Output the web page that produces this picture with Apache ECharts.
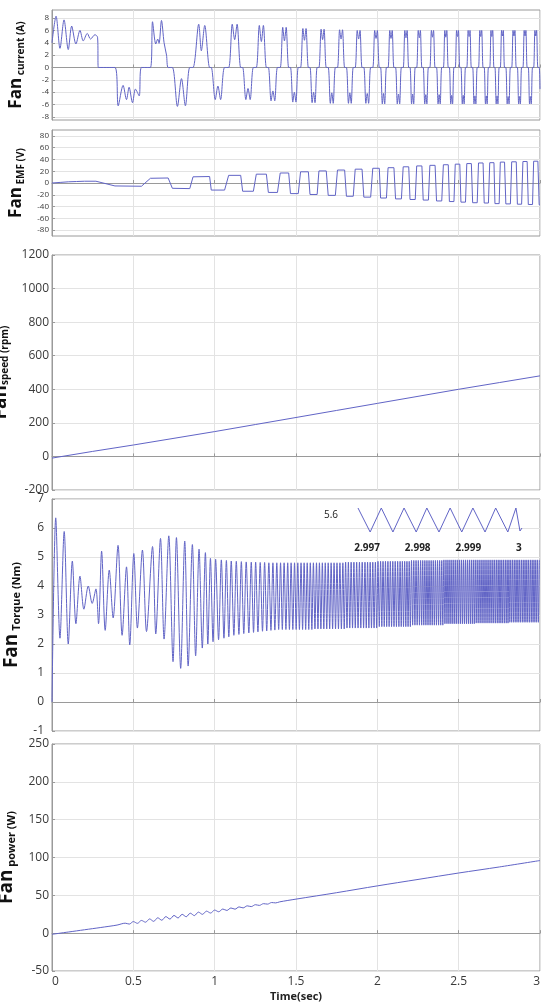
<!DOCTYPE html>
<html><head><meta charset="utf-8">
<script src="https://cdn.jsdelivr.net/npm/echarts@6/dist/echarts.min.js"></script>
<style>html,body{margin:0;padding:0;background:#fff}#c{width:541px;height:1008px}</style>
</head><body><div id="c"></div>
<script>
// ---------------- data ----------------
const timeTicks = [0, 0.5, 1, 1.5, 2, 2.5, 3];
const currentTicks = [-8, -6, -4, -2, 0, 2, 4, 6, 8];
const emfTicks = [-80, -60, -40, -20, 0, 20, 40, 60, 80];
const insetTimeTicks = [2.997, 2.998, 2.999, 3];
const insetTorqueTicks = [5.6];

// current: start-up section (time s, current A)
const curEarlyT = [0, 0.025, 0.049, 0.074, 0.100, 0.121, 0.147, 0.172, 0.192, 0.217, 0.237, 0.264, 0.280, 0.285, 0.387, 0.407, 0.437, 0.458, 0.474, 0.495, 0.513, 0.536, 0.550, 0.605, 0.618, 0.638, 0.650, 0.658, 0.673, 0.689, 0.704, 0.714, 0.740, 0.771, 0.796, 0.820, 0.847, 0.867, 0.902, 0.918, 0.939, 0.969];
const curEarlyV = [4.0, 8.3, 3.1, 7.7, 2.9, 6.7, 3.8, 6.0, 4.3, 5.5, 4.6, 5.3, 4.9, 0, 0, -6.2, -2.9, -5.2, -3.2, -5.7, -3.5, -4.6, 0, 0, 7.4, 3.8, 4.6, 3.9, 7.6, 4.0, 2.0, 0, 0, -6.3, -1.8, -6.2, 0, 0, 7.0, 2.7, 6.8, 0];
// current: later conduction humps (start, end, signed peak, signed notch)
const humpStart = [0.979,1.086,1.172,1.256,1.330,1.403,1.466,1.528,1.586,1.641,1.698,1.755,1.810,1.864,1.917,1.972,2.020,2.066,2.112,2.159,2.201,2.242,2.282,2.323,2.364,2.406,2.443,2.479,2.514,2.550,2.586,2.622,2.657,2.691,2.723,2.756,2.790,2.826,2.861,2.895,2.928,2.961];
const humpEnd = [1.061,1.160,1.238,1.318,1.386,1.455,1.514,1.576,1.630,1.686,1.742,1.799,1.852,1.906,1.959,2.012,2.056,2.102,2.148,2.193,2.233,2.274,2.314,2.355,2.396,2.436,2.471,2.507,2.542,2.578,2.614,2.650,2.683,2.717,2.749,2.782,2.818,2.854,2.887,2.921,2.954,2.987];
const humpPeak = [-5.2,7.0,-5.2,6.8,-5.4,6.5,-5.6,6.3,-5.7,6.2,-5.8,6.1,-5.8,6.0,-5.8,6.0,-5.9,6.0,-5.9,6.0,-5.9,6.0,-5.9,6.0,-5.9,6.0,-5.9,6.0,-5.9,6.0,-5.9,6.0,-5.9,6.0,-5.9,6.0,-5.9,6.0,-5.9,6.0,-5.9,6.0];
const humpNotch = [-3.0,4.5,-3.4,4.2,-3.8,4.3,-4.0,4.4,-4.0,4.5,-4.1,4.6,-4.1,4.6,-4.2,4.7,-4.2,4.7,-4.3,4.8,-4.3,4.8,-4.4,4.9,-4.4,4.9,-4.5,5.0,-4.5,5.0,-4.6,5.0,-4.6,5.0,-4.6,5.1,-4.7,5.1,-4.7,5.1,-4.7,5.1];
const curTailT = [2.995, 3.0];
const curTailV = [0, -3.5];

// EMF (V)
const emfEarlyT = [0, 0.05, 0.10, 0.15, 0.20, 0.27, 0.387, 0.550, 0.605, 0.714, 0.740, 0.847, 0.867, 0.969];
const emfEarlyV = [0, 1, 2, 2.5, 3, 3, -5, -5.5, 8, 8.5, -9, -9.5, 10.5, 11];
const emfLevel = [-12,13,-14,15,-16,17,-18,19,-19.5,20.5,-21,22,-22.5,23.5,-24,25,-25.5,26,-27,27.5,-28,29,-29,30,-30.5,31,-31.5,32,-32.5,33,-33.5,34,-34,34.5,-35,35.5,-35.5,36,-36,36.5,-36.5,37];
const emfTailT = [2.995, 3.0];
const emfTailV = [-37, -37];

// speed (rpm)
const speedT = [0, 0.25, 0.5, 0.75, 1.0, 1.25, 1.5, 1.75, 2.0, 2.25, 2.5, 2.75, 3.0];
const speedV = [-10, 30, 68, 108, 148, 190, 232, 274, 316, 358, 400, 440, 480];

// torque (Nm): individual peaks/troughs of the start-up
const tqT = [0.000,0.023,0.049,0.075,0.100,0.125,0.147,0.172,0.196,0.223,0.247,0.270,0.286,0.305,0.327,0.352,0.376,0.406,0.431,0.458,0.478,0.503,0.525,0.556,0.581,0.618,0.638,0.667,0.689,0.718,0.744,0.765,0.791,0.816,0.837,0.863,0.883,0.904,0.924,0.943,0.958,0.974,0.990,1.006,1.024,1.041,1.057,1.072,1.087,1.102,1.118,1.133,1.149,1.164,1.179,1.194,1.210,1.225,1.239,1.252,1.266,1.280,1.294,1.307,1.320,1.333,1.346,1.358,1.370];
const tqV = [0.0,6.35,2.2,5.88,2.0,4.86,2.7,4.34,3.2,4.0,3.4,3.9,2.7,5.2,2.47,4.55,2.9,5.4,2.3,4.66,1.97,5.12,2.55,5.24,2.43,5.36,2.35,5.64,2.17,5.73,1.39,5.67,1.16,5.55,1.24,5.43,1.59,5.27,1.86,5.15,2.0,4.95,2.08,4.92,2.15,4.9,2.2,4.88,2.25,4.86,2.3,4.85,2.33,4.84,2.36,4.83,2.38,4.82,2.4,4.82,2.42,4.81,2.44,4.81,2.45,4.8,2.47,4.8,2.48];
// torque: ripple peak times in the dense band, and band top/bottom per time segment
const tqDenseT = [1.382,1.405,1.427,1.449,1.470,1.491,1.511,1.531,1.550,1.569,1.588,1.607,1.626,1.644,1.662,1.680,1.698,1.716,1.734,1.752,1.770,1.788,1.805,1.822,1.839,1.856,1.873,1.890,1.907,1.924,1.940,1.956,1.972,1.988,2.004,2.020,2.035,2.050,2.065,2.080,2.095,2.110,2.125,2.140,2.154,2.168,2.182,2.196,2.210,2.224,2.238,2.252,2.266,2.279,2.292,2.305,2.318,2.331,2.344,2.357,2.370,2.383,2.396,2.409,2.422,2.434,2.446,2.458,2.470,2.482,2.494,2.506,2.518,2.530,2.542,2.554,2.566,2.578,2.590,2.602,2.614,2.626,2.638,2.650,2.662,2.674,2.686,2.698,2.710,2.721,2.732,2.743,2.754,2.765,2.776,2.787,2.798,2.809,2.820,2.831,2.842,2.853,2.864,2.875,2.886,2.897,2.908,2.919,2.930,2.941,2.952,2.963,2.974,2.985,2.996];
const tqSegEnd = [1.5, 1.6, 1.8, 2.0, 2.2, 2.4, 2.6, 2.8, 3.01];
const tqSegHi = [4.8, 4.8, 4.8, 4.82, 4.85, 4.88, 4.9, 4.9, 4.9];
const tqSegLo = [2.5, 2.5, 2.52, 2.55, 2.6, 2.65, 2.7, 2.72, 2.75];

// inset: torque between 2.997 s and 3 s
const insetT = [2.99682,2.99706,2.99728,2.99751,2.99773,2.99797,2.99818,2.99842,2.99864,2.99887,2.99909,2.99933,2.99954,2.99978,2.99994,3.00002,3.00006];
const insetV = [5.635,5.515,5.635,5.515,5.635,5.515,5.635,5.515,5.635,5.515,5.635,5.515,5.635,5.515,5.635,5.52,5.535];

// power (W)
const powT = [0,0.1,0.2,0.3,0.4,0.45,0.475,0.5,0.525,0.55,0.575,0.6,0.625,0.65,0.675,0.7,0.725,0.75,0.775,0.8,0.825,0.85,0.875,0.9,0.925,0.95,0.975,1.0,1.025,1.05,1.075,1.1,1.125,1.15,1.175,1.2,1.225,1.25,1.275,1.3,1.325,1.35,1.375,1.4,1.5,1.75,2.0,2.25,2.5,2.75,3.0];
const powV = [-1.5,1.5,4.5,7.5,10.7,13.2,12.0,15.3,13.0,16.8,14.5,18.8,15.6,20.3,17.1,21.9,18.6,23.4,20.1,24.9,21.7,26.4,23.2,27.8,24.9,29.1,26.6,30.5,28.3,31.9,30.0,33.3,31.7,34.7,33.4,36.1,35.1,37.6,36.7,39.0,38.4,40.5,40.0,41.4,45.0,53.5,62.5,71.0,79.5,87.5,96.0];

// ---------------- build series data ----------------
const pair = (T, V) => T.map((t, i) => [t, V[i]]);

const curData = pair(curEarlyT, curEarlyV);
const emfData = pair(emfEarlyT, emfEarlyV);
humpStart.forEach((s, i) => {
  const e = humpEnd[i], w = e - s;
  curData.push([s, 0], [s + 0.3 * w, humpPeak[i]], [s + 0.5 * w, humpNotch[i]], [s + 0.7 * w, humpPeak[i]], [e, 0]);
  emfData.push([s, emfLevel[i]], [e, emfLevel[i]]);
});
curData.push(...pair(curTailT, curTailV));
emfData.push(...pair(emfTailT, emfTailV));

const tqData = pair(tqT, tqV);
tqDenseT.forEach((t, i) => {
  let k = 0; while (t > tqSegEnd[k]) k++;
  tqData.push([t, tqSegHi[k]]);
  if (i + 1 < tqDenseT.length) tqData.push([(t + tqDenseT[i + 1]) / 2, tqSegLo[k]]);
});

// ---------------- styling ----------------
const LINE = '#6164c6';
const FRAME = '#9a9a9a';
const GRIDC = '#e3e3e3';
const FONT = '"Open Sans", "DejaVu Sans", sans-serif';
const TXT = '#3a3a3a';

function xAx(i, withLabels) {
  return {
    type: 'value', gridIndex: i, min: 0, max: 3, interval: 0.5,
    axisLine: { show: true, lineStyle: { color: FRAME } },
    axisTick: { show: true, inside: true, length: 3, lineStyle: { color: FRAME } },
    splitLine: { show: true, lineStyle: { color: GRIDC } },
    axisLabel: { show: withLabels, fontFamily: FONT, fontSize: 12, color: TXT, margin: 5,
      alignMinLabel: 'left', alignMaxLabel: 'right',
      formatter: v => String(timeTicks.find(t => Math.abs(t - v) < 1e-9) ?? v) },
    name: withLabels ? 'Time(sec)' : '', nameLocation: 'middle', nameGap: 20,
    nameTextStyle: { fontFamily: FONT, fontSize: 11, fontWeight: 'bold', color: '#222' }
  };
}
function rich(big, small) {
  return {
    a: { fontFamily: FONT, fontSize: big, fontWeight: 'bold', color: '#111', lineHeight: big + 2 },
    b: { fontFamily: FONT, fontSize: small, fontWeight: 'bold', color: '#111', lineHeight: small + 1, verticalAlign: 'bottom' }
  };
}
function yAx(i, o) {
  const base = {
    type: 'value', gridIndex: i, min: o.min, max: o.max,
    axisLine: { show: true, lineStyle: { color: FRAME } },
    axisTick: { show: true, inside: true, length: 3, lineStyle: { color: FRAME } },
    splitLine: { show: true, lineStyle: { color: GRIDC } },
    axisLabel: { fontFamily: FONT, fontSize: o.fs, color: TXT, margin: o.margin, formatter: v => String(v) },
    name: o.name, nameLocation: 'middle', nameRotate: 90, nameGap: o.gap,
    nameTextStyle: { rich: rich(o.big, o.small) }
  };
  if (o.ticks) {
    base.axisLabel.customValues = o.ticks;
    base.axisTick.customValues = o.ticks;
  } else {
    base.interval = o.interval;
  }
  return base;
}
function grid(top, height) {
  return { left: 52, right: 1, top: top, height: height, show: true, borderColor: FRAME, borderWidth: 1,
    backgroundColor: 'transparent', containLabel: false, outerBoundsMode: 'none' };
}

const chart = echarts.init(document.getElementById('c'), null, { renderer: 'canvas' });
chart.setOption({
  animation: false,
  backgroundColor: '#fff',
  grid: [
    grid(10, 110), grid(130, 106), grid(255, 235), grid(499, 232), grid(744, 227),
    { left: 358, top: 505, width: 164, height: 30, show: false, containLabel: false, outerBoundsMode: 'none' }
  ],
  xAxis: [
    xAx(0, false), xAx(1, false), xAx(2, false), xAx(3, false), xAx(4, true),
    { type: 'value', gridIndex: 5, min: 2.99682, max: 3.00006,
      axisLine: { show: false }, axisTick: { show: false }, splitLine: { show: false },
      axisLabel: { customValues: insetTimeTicks, fontFamily: FONT, fontSize: 10, fontWeight: 'bold', color: '#222', margin: 8,
        formatter: v => String(insetTimeTicks.find(t => Math.abs(t - v) < 1e-7) ?? v) } }
  ],
  yAxis: [
    yAx(0, { min: -8.5, max: 9.3, ticks: currentTicks, fs: 8, margin: 3, name: '{a|Fan}{b| current (A)}', gap: 26, big: 17, small: 10 }),
    yAx(1, { min: -90, max: 90, ticks: emfTicks, fs: 8, margin: 3, name: '{a|Fan}{b| EMF (V)}', gap: 26, big: 17, small: 10 }),
    yAx(2, { min: -200, max: 1200, interval: 200, fs: 12, margin: 3, name: '{a|Fan}{b|speed (rpm)}', gap: 19, big: 19, small: 10 }),
    yAx(3, { min: -1, max: 7, interval: 1, fs: 12, margin: 8, name: '{a|Fan}{b| Torque (Nm)}', gap: 19, big: 19, small: 11 }),
    yAx(4, { min: -50, max: 250, interval: 50, fs: 12, margin: 3, name: '{a|Fan}{b| power (W)}', gap: 18, big: 19, small: 11 }),
    { type: 'value', gridIndex: 5, min: 5.50, max: 5.65,
      axisLine: { show: false }, axisTick: { show: false }, splitLine: { show: false },
      axisLabel: { customValues: insetTorqueTicks, fontFamily: FONT, fontSize: 10, color: '#222', margin: 20,
        formatter: v => v.toFixed(1) } }
  ],
  series: [
    { type: 'line', xAxisIndex: 0, yAxisIndex: 0, data: curData, smooth: 0.3 },
    { type: 'line', xAxisIndex: 1, yAxisIndex: 1, data: emfData },
    { type: 'line', xAxisIndex: 2, yAxisIndex: 2, data: pair(speedT, speedV) },
    { type: 'line', xAxisIndex: 3, yAxisIndex: 3, data: tqData, smooth: 0.3 },
    { type: 'line', xAxisIndex: 4, yAxisIndex: 4, data: pair(powT, powV), smooth: 0.3 },
    { type: 'line', xAxisIndex: 5, yAxisIndex: 5, data: pair(insetT, insetV) }
  ].map(s => Object.assign(s, { showSymbol: false, symbol: 'none', lineStyle: { width: 1, color: LINE }, itemStyle: { color: LINE }, silent: true }))
});
</script>
</body></html>
